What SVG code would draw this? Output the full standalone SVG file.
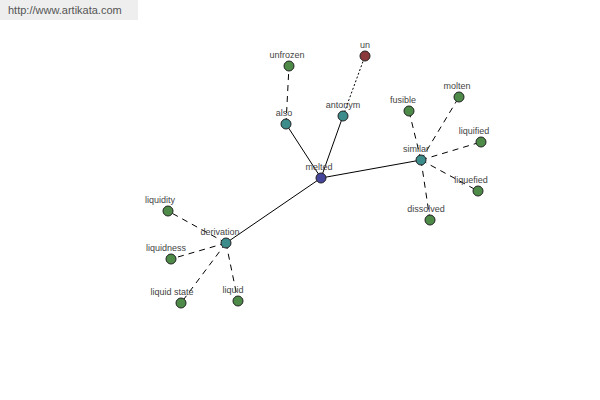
<svg xmlns="http://www.w3.org/2000/svg" width="600" height="400" viewBox="0 0 600 400">
<style>
text{font-family:"Liberation Sans",Arial,sans-serif;font-size:9px;fill:#444;text-anchor:middle}
.n circle{stroke:#222;stroke-width:1}
.g{fill:#4e8a48}.t{fill:#3d8c8c}.m{fill:#45459a}.r{fill:#8a3a3a}
#edges line{stroke:#000;stroke-width:1}
.d{stroke-dasharray:6,5}
.o{stroke-dasharray:2,2}
</style>
<rect width="600" height="400" fill="#fff"/>
<rect x="0" y="0" width="138" height="20" fill="#eeeeee"/>
<text x="8" y="14" style="font-size:11px;text-anchor:start;fill:#555">http://www.artikata.com</text>
<g id="edges">
<line x1="321" y1="178" x2="286" y2="124"/>
<line x1="321" y1="178" x2="343" y2="116"/>
<line x1="321" y1="178" x2="421" y2="160"/>
<line x1="321" y1="178" x2="226" y2="243"/>
<line class="d" x1="286" y1="124" x2="289" y2="66"/>
<line class="o" x1="343" y1="116" x2="365" y2="56"/>
<line class="d" x1="421" y1="160" x2="409" y2="111"/>
<line class="d" x1="421" y1="160" x2="459" y2="97"/>
<line class="d" x1="421" y1="160" x2="481" y2="142"/>
<line class="d" x1="421" y1="160" x2="478" y2="191"/>
<line class="d" x1="421" y1="160" x2="430" y2="220"/>
<line class="d" x1="226" y1="243" x2="168" y2="211"/>
<line class="d" x1="226" y1="243" x2="171" y2="259"/>
<line class="d" x1="226" y1="243" x2="181" y2="303"/>
<line class="d" x1="226" y1="243" x2="238" y2="301"/>
</g>
<g id="melted" class="n"><circle class="m" cx="321" cy="178" r="5"/><text x="319" y="170">melted</text></g>
<g id="also" class="n"><circle class="t" cx="286" cy="124" r="5"/><text x="284" y="116">also</text></g>
<g id="antonym" class="n"><circle class="t" cx="343" cy="116" r="5"/><text x="343" y="108">antonym</text></g>
<g id="unfrozen" class="n"><circle class="g" cx="289" cy="66" r="5"/><text x="287" y="58">unfrozen</text></g>
<g id="un" class="n"><circle class="r" cx="365" cy="56" r="5"/><text x="365" y="48">un</text></g>
<g id="similar" class="n"><circle class="t" cx="421" cy="160" r="5"/><text x="416" y="152">similar</text></g>
<g id="fusible" class="n"><circle class="g" cx="409" cy="111" r="5"/><text x="403" y="103">fusible</text></g>
<g id="molten" class="n"><circle class="g" cx="459" cy="97" r="5"/><text x="457" y="89">molten</text></g>
<g id="liquified" class="n"><circle class="g" cx="481" cy="142" r="5"/><text x="474" y="134">liquified</text></g>
<g id="liquefied" class="n"><circle class="g" cx="478" cy="191" r="5"/><text x="471" y="183">liquefied</text></g>
<g id="dissolved" class="n"><circle class="g" cx="430" cy="220" r="5"/><text x="426" y="212">dissolved</text></g>
<g id="derivation" class="n"><circle class="t" cx="226" cy="243" r="5"/><text x="220" y="235">derivation</text></g>
<g id="liquidity" class="n"><circle class="g" cx="168" cy="211" r="5"/><text x="160" y="203">liquidity</text></g>
<g id="liquidness" class="n"><circle class="g" cx="171" cy="259" r="5"/><text x="166" y="251">liquidness</text></g>
<g id="liquid_state" class="n"><circle class="g" cx="181" cy="303" r="5"/><text x="172" y="295">liquid state</text></g>
<g id="liquid" class="n"><circle class="g" cx="238" cy="301" r="5"/><text x="233" y="293">liquid</text></g>
</svg>
